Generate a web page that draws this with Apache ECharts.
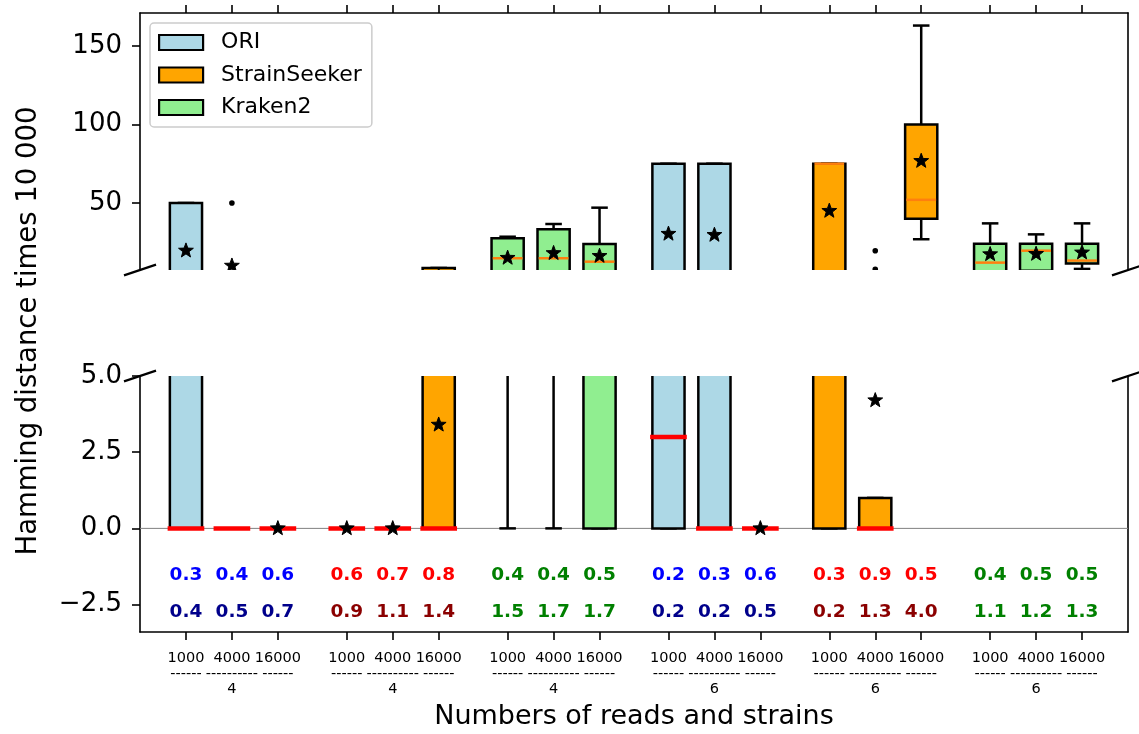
<!DOCTYPE html>
<html><head><meta charset="utf-8">
<script src="https://cdn.jsdelivr.net/npm/echarts@6/dist/echarts.min.js"></script>
<style>html,body{margin:0;padding:0;background:#fff}#c{width:1139px;height:734px}</style>
</head><body><div id="c"></div>
<script>
// ---------------- data ----------------
const readCounts = ['1000', '4000', '16000'];
const strainCounts = ['4', '4', '4', '6', '6', '6'];
const groupMethods = ['ORI', 'StrainSeeker', 'Kraken2', 'ORI', 'StrainSeeker', 'Kraken2'];
const methods = ['ORI', 'StrainSeeker', 'Kraken2'];
const methodColors = { ORI: '#add8e6', StrainSeeker: '#ffa500', Kraken2: '#90ee90' };
// [whiskerLow, q1, median, q3, whiskerHigh], 3 boxes per group, group order as above
const boxStats = [
  [0, 0, 0, 50, 50], [0, 0, 0, 0, 0], [0, 0, 0, 0, 0],
  [0, 0, 0, 0, 0], [0, 0, 0, 0, 0], [0, 0, 0, 8.6, 8.6],
  [0, 6, 14.8, 27.5, 28.5], [0, 6, 14.8, 33.2, 36.6], [0, 0, 12.6, 23.9, 47],
  [0, 0, 3, 75, 75], [0, 0, 0, 75, 75], [0, 0, 0, 0, 0],
  [0, 0, 75, 75, 75], [0, 0, 0, 1, 1], [26.9, 40, 52, 100, 163],
  [5.5, 6.5, 12, 24, 37], [5.8, 6.8, 19.6, 24, 30], [8, 11.5, 13.3, 24, 37]
];
const means = [19.6, 10, 0, 0, 0, 3.4, 15, 18, 16.2, 30.3, 29.6, 0, 44.9, 4.2, 76.7, 17.3, 17.5, 18.4];
const outliers = [[], [50], [], [], [], [], [], [], [], [], [], [], [], [19.6, 7.8], [], [], [], []];
const annotationRow1 = ['0.3','0.4','0.6','0.6','0.7','0.8','0.4','0.4','0.5','0.2','0.3','0.6','0.3','0.9','0.5','0.4','0.5','0.5'];
const annotationRow2 = ['0.4','0.5','0.7','0.9','1.1','1.4','1.5','1.7','1.7','0.2','0.2','0.5','0.2','1.3','4.0','1.1','1.2','1.3'];
const rowColors = { ORI: ['#0000ff', '#00008b'], StrainSeeker: ['#ff0000', '#8b0000'], Kraken2: ['#008000', '#008000'] };
const topTicks = [50, 100, 150];
const bottomTicks = [-2.5, 0, 2.5, 5];

// ---------------- layout helpers ----------------
const FONT = '"DejaVu Sans", sans-serif';
const pos = (k) => 1 + Math.floor(k / 3) * 3.5 + (k % 3);
const tickPositions = boxStats.map((_, k) => pos(k));
const ROW1_Y = -1.54, ROW2_Y = -2.75;
const Y_MIN_BOTTOM = -3.4;
function labelFor(k) {
  const i = k % 3, g = Math.floor(k / 3);
  const dashes = i === 1 ? '----------' : '------';
  return readCounts[i] + '\n' + dashes + (i === 1 ? '\n' + strainCounts[g] : '');
}
function starPoints(cx, cy, R, r) {
  const pts = [];
  for (let j = 0; j < 10; j++) {
    const a = -Math.PI / 2 + j * Math.PI / 5;
    const rad = j % 2 === 0 ? R : r;
    pts.push([cx + rad * Math.cos(a), cy + rad * Math.sin(a)]);
  }
  return pts;
}
const LW = 2.5;
function makeRender(kind) {
  return function (params, api) {
    const x = api.value(0);
    const idx = api.value(1);
    const [wlo, q1, med, q3, whi] = boxStats[idx];
    const color = methodColors[groupMethods[Math.floor(idx / 3)]];
    const half = api.size([0.7, 0])[0] / 2;
    const capHalf = api.size([0.36, 0])[0] / 2;
    const cx = api.coord([x, 0])[0];
    const Y = v => api.coord([x, v])[1];
    const black = '#000';
    const ch = [];
    const ln = (x1, y1, x2, y2, stroke, lw, cap) => ({ type: 'line', shape: { x1, y1, x2, y2 }, style: { stroke, lineWidth: lw, lineCap: cap || 'butt' } });
    if (whi !== q3) ch.push(ln(cx, Y(q3), cx, Y(whi), black, LW));
    if (wlo !== q1) ch.push(ln(cx, Y(q1), cx, Y(wlo), black, LW));
    ch.push(ln(cx - capHalf, Y(whi), cx + capHalf, Y(whi), black, LW));
    ch.push(ln(cx - capHalf, Y(wlo), cx + capHalf, Y(wlo), black, LW));
    if (q3 !== q1) {
      const yt = Y(q3), yb = Y(q1);
      ch.push({ type: 'rect', shape: { x: cx - half, y: yt, width: 2 * half, height: yb - yt },
        style: { fill: color, stroke: black, lineWidth: LW } });
    }
    if (kind === 'top') ch.push(ln(cx - half + 1.2, Y(med), cx + half - 1.2, Y(med), '#ff7f0e', 2.5));
    else ch.push(ln(cx - half, Y(med), cx + half, Y(med), '#ff0000', 4.5, 'square'));
    outliers[idx].forEach(o => ch.push({ type: 'circle', shape: { cx, cy: Y(o), r: 2.8 }, style: { fill: black } }));
    ch.push({ type: 'polygon', shape: { points: starPoints(cx, Y(means[idx]), 7.8, 3.2) },
      style: { fill: black, stroke: black, lineWidth: 1 } });
    return { type: 'group', children: ch };
  };
}

const series = [];
series.push({ type: 'line', xAxisIndex: 1, yAxisIndex: 2, data: [[0, 0], [21.5, 0]], symbol: 'none',
  lineStyle: { color: '#808080', width: 1 }, z: 1, silent: true });
methods.forEach(m => {
  const data = [];
  boxStats.forEach((_, k) => { if (groupMethods[Math.floor(k / 3)] === m) data.push([pos(k), k]); });
  [['top', 0, 0], ['bottom', 1, 2]].forEach(([kind, xi, yi]) => {
    series.push({ type: 'custom', name: m, xAxisIndex: xi, yAxisIndex: yi, clip: true, z: 3,
      itemStyle: { color: methodColors[m] }, renderItem: makeRender(kind), data,
      encode: { x: 0, y: -1 }, silent: true });
  });
});
// numeric annotations + category tick labels
series.push({ type: 'custom', xAxisIndex: 1, yAxisIndex: 2, z: 4, silent: true,
  data: boxStats.map((_, k) => [pos(k), k]), encode: { x: 0, y: -1 },
  renderItem: (params, api) => {
    const x = api.value(0), k = api.value(1);
    const cols = rowColors[groupMethods[Math.floor(k / 3)]];
    const mk = (txt, yv, fill) => {
      const p = api.coord([x, yv]);
      return { type: 'text', style: { text: txt, x: p[0], y: p[1], fill, font: 'bold 18.5px ' + FONT, align: 'center', verticalAlign: 'middle' } };
    };
    const base = api.coord([x, Y_MIN_BOTTOM]);
    const tickLabel = { type: 'text', style: { text: labelFor(k), x: base[0], y: base[1] + 18.5, fill: '#000',
      font: '14.5px ' + FONT, lineHeight: 15.5, align: 'center', verticalAlign: 'top' } };
    return { type: 'group', children: [mk(annotationRow1[k], ROW1_Y, cols[0]), mk(annotationRow2[k], ROW2_Y, cols[1]), tickLabel] };
  } });

const L = 140, R = 1128, TOP0 = 13, BOT0 = 270, TOP1 = 376, BOT1 = 632;
const axisLineStyle = { color: '#000', width: 1.6 };
const brk = (cx, cy) => ({ type: 'line', shape: { x1: cx - 16, y1: cy + 5.4, x2: cx + 16, y2: cy - 5.4 }, style: { stroke: '#000', lineWidth: 2.2 }, z: 10 });

const option = {
  animation: false,
  textStyle: { fontFamily: FONT },
  grid: [
    { left: L, right: 1139 - R, top: TOP0, height: BOT0 - TOP0 },
    { left: L, right: 1139 - R, top: TOP1, height: BOT1 - TOP1 }
  ],
  xAxis: [
    { gridIndex: 0, type: 'value', min: 0, max: 21.5, position: 'top',
      axisLine: { onZero: false, lineStyle: axisLineStyle },
      axisTick: { customValues: tickPositions, length: 8, lineStyle: axisLineStyle },
      axisLabel: { show: false }, splitLine: { show: false } },
    { gridIndex: 1, type: 'value', min: 0, max: 21.5, position: 'bottom',
      axisLine: { onZero: false, lineStyle: axisLineStyle },
      axisTick: { customValues: tickPositions, length: 8, lineStyle: axisLineStyle },
      axisLabel: { show: false }, splitLine: { show: false } }
  ],
  yAxis: [
    { gridIndex: 0, type: 'value', min: 7.3, max: 171, position: 'left',
      axisLine: { show: true, onZero: false, lineStyle: axisLineStyle },
      axisTick: { show: true, customValues: topTicks, length: 8, lineStyle: axisLineStyle },
      axisLabel: { customValues: topTicks, fontSize: 26, color: '#000', margin: 18, fontFamily: FONT },
      splitLine: { show: false } },
    { gridIndex: 0, type: 'value', min: 7.3, max: 171, position: 'right',
      axisLine: { show: true, onZero: false, lineStyle: axisLineStyle },
      axisTick: { show: false }, axisLabel: { show: false }, splitLine: { show: false } },
    { gridIndex: 1, type: 'value', min: -3.4, max: 5, position: 'left',
      axisLine: { show: true, onZero: false, lineStyle: axisLineStyle },
      axisTick: { show: true, customValues: bottomTicks, length: 8, lineStyle: axisLineStyle },
      axisLabel: { customValues: bottomTicks, fontSize: 26, color: '#000', margin: 18, fontFamily: FONT,
        formatter: v => v.toFixed(1).replace('-', '\u2212') },
      splitLine: { show: false } },
    { gridIndex: 1, type: 'value', min: -3.4, max: 5, position: 'right',
      axisLine: { show: true, onZero: false, lineStyle: axisLineStyle },
      axisTick: { show: false }, axisLabel: { show: false }, splitLine: { show: false } }
  ],
  legend: {
    data: methods, orient: 'vertical', left: 150, top: 23, selectedMode: false,
    icon: 'rect', itemWidth: 44, itemHeight: 15, itemGap: 10.5,
    itemStyle: { borderColor: '#000', borderWidth: 2.2 },
    textStyle: { fontSize: 22, lineHeight: 22, fontFamily: FONT, color: '#000', padding: [0, 0, 0, 13] },
    padding: [8.5, 10, 8.5, 8], backgroundColor: 'rgba(255,255,255,0.8)',
    borderColor: '#cccccc', borderWidth: 1.5, borderRadius: 4
  },
  graphic: [
    brk(L, BOT0), brk(R, BOT0), brk(L, TOP1), brk(R, TOP1),
    { type: 'text', x: 634, y: 717, style: { text: 'Numbers of reads and strains', font: '27px ' + FONT, fill: '#000', align: 'center', verticalAlign: 'middle' } },
    { type: 'text', x: 29, y: 331, rotation: Math.PI / 2, style: { text: 'Hamming distance times 10 000', font: '27.5px ' + FONT, fill: '#000', align: 'center', verticalAlign: 'middle' } }
  ],
  series
};
const chart = echarts.init(document.getElementById('c'), null, { renderer: 'canvas' });
chart.setOption(option);
</script>
</body></html>
